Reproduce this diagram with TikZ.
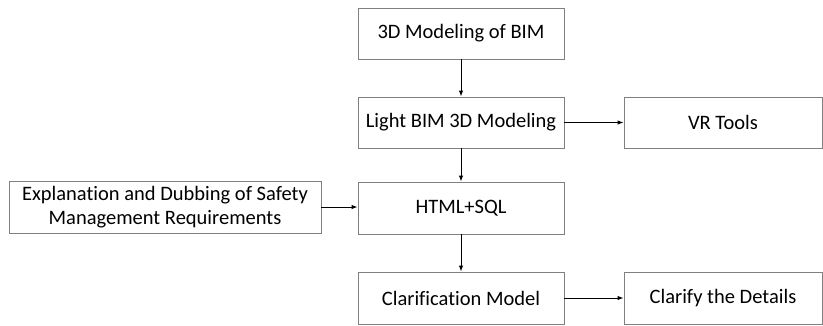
\documentclass[tikz,border=0pt]{standalone}
\usepackage{fontspec}
\setmainfont[Ligatures=NoCommon]{Carlito}
\usetikzlibrary{arrows.meta}
\begin{document}
\begin{tikzpicture}[x=1pt,y=-1pt,
  box/.style={draw=black!50, line width=0.9pt, fill=white, inner sep=0pt, font=\fontsize{20.5}{24.5}\selectfont, align=center},
  arr/.style={-{Latex[length=6pt,width=4.5pt]}, line width=1pt, black}]
\useasboundingbox (0,0) rectangle (823,325);
\node[box, minimum width=206pt, minimum height=51pt] (b1) at (461,33.5) {3D Modeling of BIM};
\node[box, minimum width=206pt, minimum height=51pt] (b2) at (461,122.5) {Light BIM 3D Modeling};
\node[box, minimum width=198pt, minimum height=51pt] (vr) at (723,122.5) {VR Tools};
\node[box, minimum width=312pt, minimum height=52pt] (exp) at (165,207) {Explanation and Dubbing of Safety\\Management Requirements};
\node[box, minimum width=206pt, minimum height=52pt] (html) at (461,208) {HTML+SQL};
\node[box, minimum width=206pt, minimum height=52pt] (clar) at (461,298) {Clarification Model};
\node[box, minimum width=198pt, minimum height=52pt] (det) at (723,298) {Clarify the Details};
\draw[arr] (b1) -- (b2);
\draw[arr] (b2) -- (vr);
\draw[arr] (b2) -- (html);
\draw[arr] (exp.east) -- (html.west |- exp.east);
\draw[arr] (html) -- (clar);
\draw[arr] (clar) -- (det);
\end{tikzpicture}
\end{document}
